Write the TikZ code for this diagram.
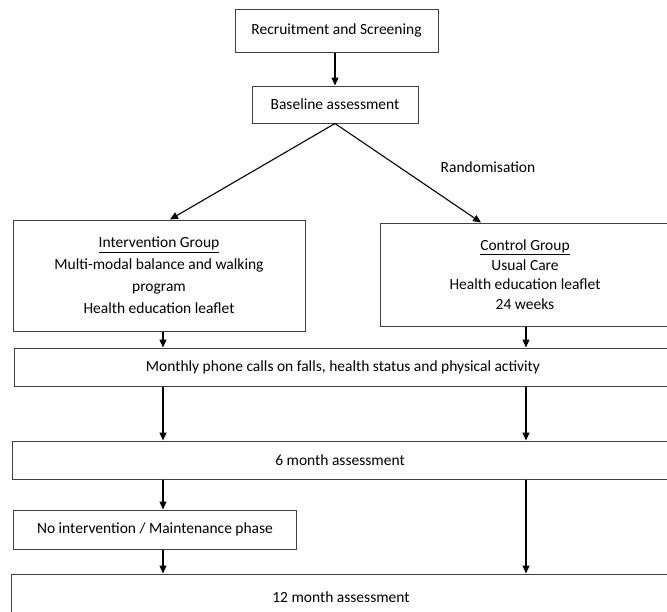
\documentclass[tikz,border=0pt]{standalone}
\usepackage{fontspec}
\setmainfont{Carlito}
\usetikzlibrary{arrows.meta}
\begin{document}
\begin{tikzpicture}[x=1pt,y=-1pt,
  box/.style={draw=black!75, line width=1pt, inner sep=0pt, align=center, font=\fontsize{15.5}{19.5}\selectfont},
  lbl/.style={inner sep=0pt, font=\fontsize{15.5}{19.5}\selectfont},
  arr/.style={-{Triangle[length=8pt,width=7pt]}, line width=1.1pt, black}]
\useasboundingbox (0,0) rectangle (667,611);
\clip (0,0) rectangle (667,611);
\node[box, minimum width=203, minimum height=43] (rec) at (336.5,30.5) {Recruitment and Screening};
\node[box, minimum width=166, minimum height=37] (base) at (335,104.5) {Baseline assessment};
\node[box, minimum width=292, minimum height=111, font=\fontsize{15.5}{22}\selectfont] (int) at (159,275.5) {\underline{Intervention Group}\\Multi-modal balance and walking\\program\\Health education leaflet};
\node[box, minimum width=290, minimum height=103] (con) at (525,274.5) {\underline{Control Group}\\Usual Care\\Health education leaflet\\24 weeks};
\node[box, minimum width=658, minimum height=38] (mon) at (343,367) {Monthly phone calls on falls, health status and physical activity};
\node[box, minimum width=656, minimum height=38] (six) at (340,460) {6 month assessment};
\node[box, minimum width=283, minimum height=39] (noint) at (155,529.5) {No intervention / Maintenance phase};
\node[box, minimum width=660, minimum height=46] (twelve) at (341,597) {12 month assessment};
\node[lbl] (rand) at (488,167) {Randomisation};
\coordinate (xl) at (170,0);
\coordinate (xr) at (481,0);
\coordinate (cl) at (163,0);
\coordinate (cr) at (526,0);
\draw[arr] (rec.south -| base.north) -- (base.north);
\draw[arr] (base.south) -- (int.north -| xl);
\draw[arr] (base.south) -- (con.north -| xr);
\draw[arr] (int.south -| cl) -- (mon.north -| cl);
\draw[arr] (con.south -| cr) -- (mon.north -| cr);
\draw[arr] (mon.south -| cl) -- (six.north -| cl);
\draw[arr] (mon.south -| cr) -- (six.north -| cr);
\draw[arr] (six.south -| cl) -- (noint.north -| cl);
\draw[arr] (noint.south -| cl) -- (twelve.north -| cl);
\draw[arr] (six.south -| cr) -- (twelve.north -| cr);
\end{tikzpicture}
\end{document}
